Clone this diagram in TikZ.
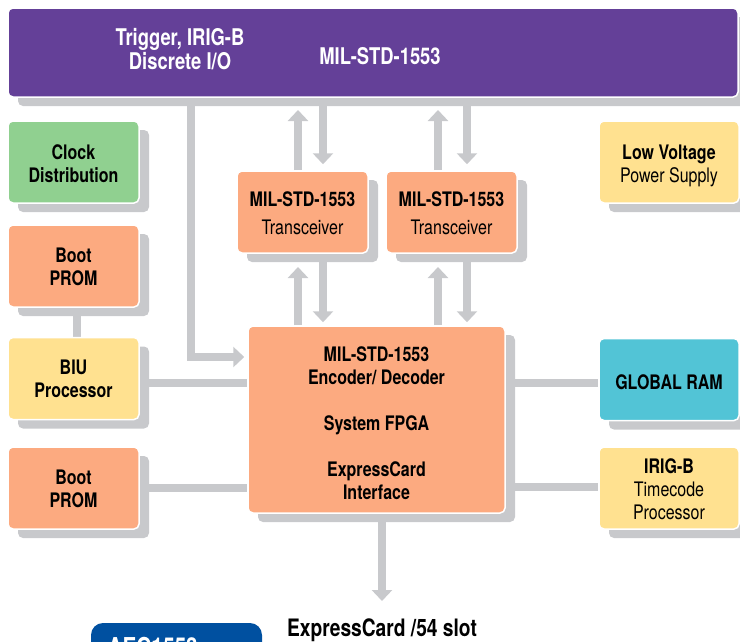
\documentclass[tikz,border=0pt]{standalone}
\usepackage{fontspec}
\setmainfont{TeX Gyre Heros}[FakeStretch=0.8]
\usetikzlibrary{arrows.meta,shadows,backgrounds,calc}
\definecolor{titlepurple}{RGB}{100,64,152}
\definecolor{boxorange}{RGB}{252,170,128}
\definecolor{boxgreen}{RGB}{144,208,144}
\definecolor{boxyellow}{RGB}{255,225,144}
\definecolor{boxcyan}{RGB}{82,196,214}
\definecolor{linegray}{RGB}{200,201,204}
\definecolor{prodblue}{RGB}{0,80,160}
\begin{document}
\begin{tikzpicture}[x=1pt,y=-1pt,
  box/.style={rounded corners=5pt, draw=white, line width=1.5pt,
    minimum width=131pt, minimum height=82pt, inner sep=2pt,
    general shadow={shadow xshift=10pt, shadow yshift=-9pt, fill=linegray}},
  boxtext/.style={align=center, inner sep=0pt, font=\fontsize{20}{23}\selectfont},
  ttext/.style={text=white, align=center, font=\bfseries\fontsize{23}{24}\selectfont},
  conn/.style={draw=linegray, line width=8pt},
  arr/.style={conn, -{Triangle[width=20pt,length=11pt]}}]
\useasboundingbox (0,0) rectangle (740,641);
\clip (0,0) rectangle (740,641);

% title bar
\node[box, fill=titlepurple, minimum width=730pt, minimum height=89pt] (title) at (373,52.5) {};
\node[ttext] (ttrig) at (180,49) {Trigger, IRIG-B\\Discrete I/O};
\node[ttext] (tmil) at (380,56) {MIL-STD-1553};

% left column
\node[box, fill=boxgreen] (clock) at (73.5,162) {};
\node[boxtext] (clockT) at ([yshift=-2pt]clock.center) {\bfseries Clock\\\bfseries Distribution};
\node[box, fill=boxorange] (boot1) at (73.5,266) {};
\node[boxtext] (boot1T) at ([yshift=-1pt]boot1.center) {\bfseries Boot\\\bfseries PROM};
\node[box, fill=boxyellow] (biu) at (73.5,378.5) {};
\node[boxtext] (biuT) at ([yshift=0pt]biu.center) {\bfseries BIU\\\bfseries Processor};
\node[box, fill=boxorange] (boot2) at (73.5,488) {};
\node[boxtext] (boot2T) at ([yshift=-1pt]boot2.center) {\bfseries Boot\\\bfseries PROM};

% transceivers
\node[box, fill=boxorange] (T1) at (302.5,212) {};
\node[boxtext] (T1T) at ([yshift=-1.5pt]T1.center) {\bfseries MIL-STD-1553\\[5pt]Transceiver};
\node[box, fill=boxorange] (T2) at (451.5,212) {};
\node[boxtext] (T2T) at ([yshift=-1.5pt]T2.center) {\bfseries MIL-STD-1553\\[5pt]Transceiver};

% main FPGA
\node[box, fill=boxorange, minimum width=257pt, minimum height=187pt] (main) at (376.5,419.5) {};
\node[boxtext] (mainT) at ([yshift=-4pt]main.center)
  {\bfseries MIL-STD-1553\\\bfseries Encoder/ Decoder\\[23pt]\bfseries System FPGA\\[23pt]\bfseries ExpressCard\\\bfseries Interface};

% right column
\node[box, fill=boxyellow, minimum width=140pt] (lv) at (669,162) {};
\node[boxtext] (lvT) at ([yshift=-3.5pt]lv.center) {\bfseries Low Voltage\\Power Supply};
\node[box, fill=boxcyan, minimum width=140pt] (ram) at (669,379.5) {};
\node[boxtext] (ramT) at ([yshift=-2.5pt]ram.center) {\bfseries GLOBAL RAM};
\node[box, fill=boxyellow, minimum width=140pt] (irig) at (669,488) {};
\node[boxtext] (irigT) at ([yshift=-1.5pt]irig.center) {\bfseries IRIG-B\\Timecode\\Processor};

% bottom
\node[font=\bfseries\fontsize{24}{26}\selectfont] (slot) at (382,630) {ExpressCard /54 slot};
\node[fill=prodblue, rounded corners=12pt, minimum width=171pt, minimum height=50pt] (prod) at (176.5,648) {};
\node[anchor=base west, text=white, font=\bfseries\fontsize{26}{28}\selectfont] (prodtxt) at (104,656) {AEC1553};

\coordinate (busT) at (0,110);
\coordinate (tipB) at (0,267);
\coordinate (trig) at (191,97);
\coordinate (slotTip) at (382,601);

\begin{scope}[on background layer]
  % top bus arrows
  \draw[arr] ([xshift=-4.5pt]T1.north) -- ([xshift=-4.5pt]T1.north |- busT);
  \draw[arr, shorten >=6pt] ([xshift=20.5pt]T1.north |- title.south) -- ([xshift=20.5pt]T1.north);
  \draw[arr] ([xshift=-13.5pt]T2.north) -- ([xshift=-13.5pt]T2.north |- busT);
  \draw[arr, shorten >=6pt] ([xshift=15.5pt]T2.north |- title.south) -- ([xshift=15.5pt]T2.north);
  % transceiver to FPGA
  \draw[arr] ([xshift=-4.5pt]T1.south |- main.north) -- ([xshift=-4.5pt]T1.south |- tipB);
  \draw[arr, shorten >=3pt] ([xshift=20.5pt]T1.south) -- ([xshift=20.5pt]T1.south |- main.north);
  \draw[arr] ([xshift=-13.5pt]T2.south |- main.north) -- ([xshift=-13.5pt]T2.south |- tipB);
  \draw[arr, shorten >=3pt] ([xshift=15.5pt]T2.south) -- ([xshift=15.5pt]T2.south |- main.north);
  % trigger L connector
  \draw[arr, shorten >=3pt] (trig) |- ([yshift=62.5pt]main.west);
  % left connections
  \draw[conn] ([xshift=3.5pt]boot1.south) -- ([xshift=3.5pt]biu.north);
  \draw[conn] ([yshift=-4.5pt]biu.east) -- ([yshift=-4.5pt]biu.east -| main.west);
  \draw[conn] (boot2.east) -- (boot2.east -| main.west);
  % right connections
  \draw[conn] ([yshift=-3.5pt]ram.west -| main.east) -- ([yshift=-3.5pt]ram.west);
  \draw[conn] ([yshift=1pt]irig.west -| main.east) -- ([yshift=1pt]irig.west);
  % to slot
  \draw[arr] (main.south -| slotTip) -- (slotTip);
\end{scope}
\end{tikzpicture}
\end{document}
